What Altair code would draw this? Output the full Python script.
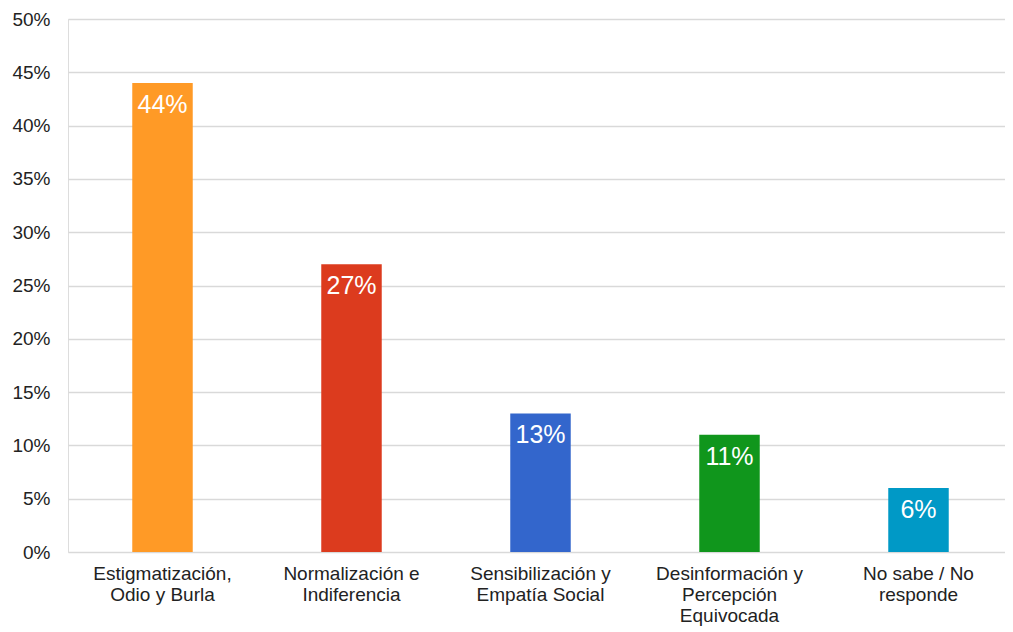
import altair as alt
import pandas as pd

categories = ["Estigmatización,|Odio y Burla", "Normalización e|Indiferencia",
              "Sensibilización y|Empatía Social", "Desinformación y|Percepción|Equivocada",
              "No sabe / No|responde"]
values = [0.44, 0.27, 0.13, 0.11, 0.06]
colors = ["#FF9A26", "#DC3B1E", "#3366CC", "#10961C", "#0099C6"]

df = pd.DataFrame({"cat": categories, "val": values, "color": colors})

FONT = "Liberation Sans"

x = alt.X("cat:N", sort=categories, title=None,
          scale=alt.Scale(paddingInner=0.68, paddingOuter=0.34, range=[0, 945]),
          axis=alt.Axis(labelExpr="split(datum.label, '|')", labelAngle=0,
                        labelFontSize=19, labelColor="#222222", labelFont=FONT,
                        domain=False, ticks=False, labelPadding=12,
                        labelLineHeight=21, labelBaseline="top"))
y = alt.Y("val:Q", title=None,
          scale=alt.Scale(domain=[0, 0.5], nice=False),
          axis=alt.Axis(values=[0, 0.05, 0.1, 0.15, 0.2, 0.25, 0.3, 0.35, 0.4, 0.45, 0.5],
                        format=".0%", labelFontSize=19, labelColor="#222222",
                        labelFont=FONT, domain=False, ticks=False, labelPadding=18,
                        gridColor="#D9D9D9", gridWidth=1.5))

bars = alt.Chart(df).mark_bar().encode(
    x=x, y=y, color=alt.Color("color:N", scale=None))

labels = alt.Chart(df).mark_text(baseline="middle", dy=22, color="white",
                                 fontSize=25, font=FONT).encode(
    x=alt.X("cat:N", sort=categories), y="val:Q",
    text=alt.Text("val:Q", format=".0%"))

chart = (bars + labels).properties(
    width=937, height=533,
    autosize=alt.AutoSizeParams(type="none"),
    padding={"left": 60, "top": 11, "right": 0, "bottom": 79},
).configure_view(stroke=None).configure(background="white")

chart.save("out.html", embed_options={"renderer": "svg", "actions": False})
